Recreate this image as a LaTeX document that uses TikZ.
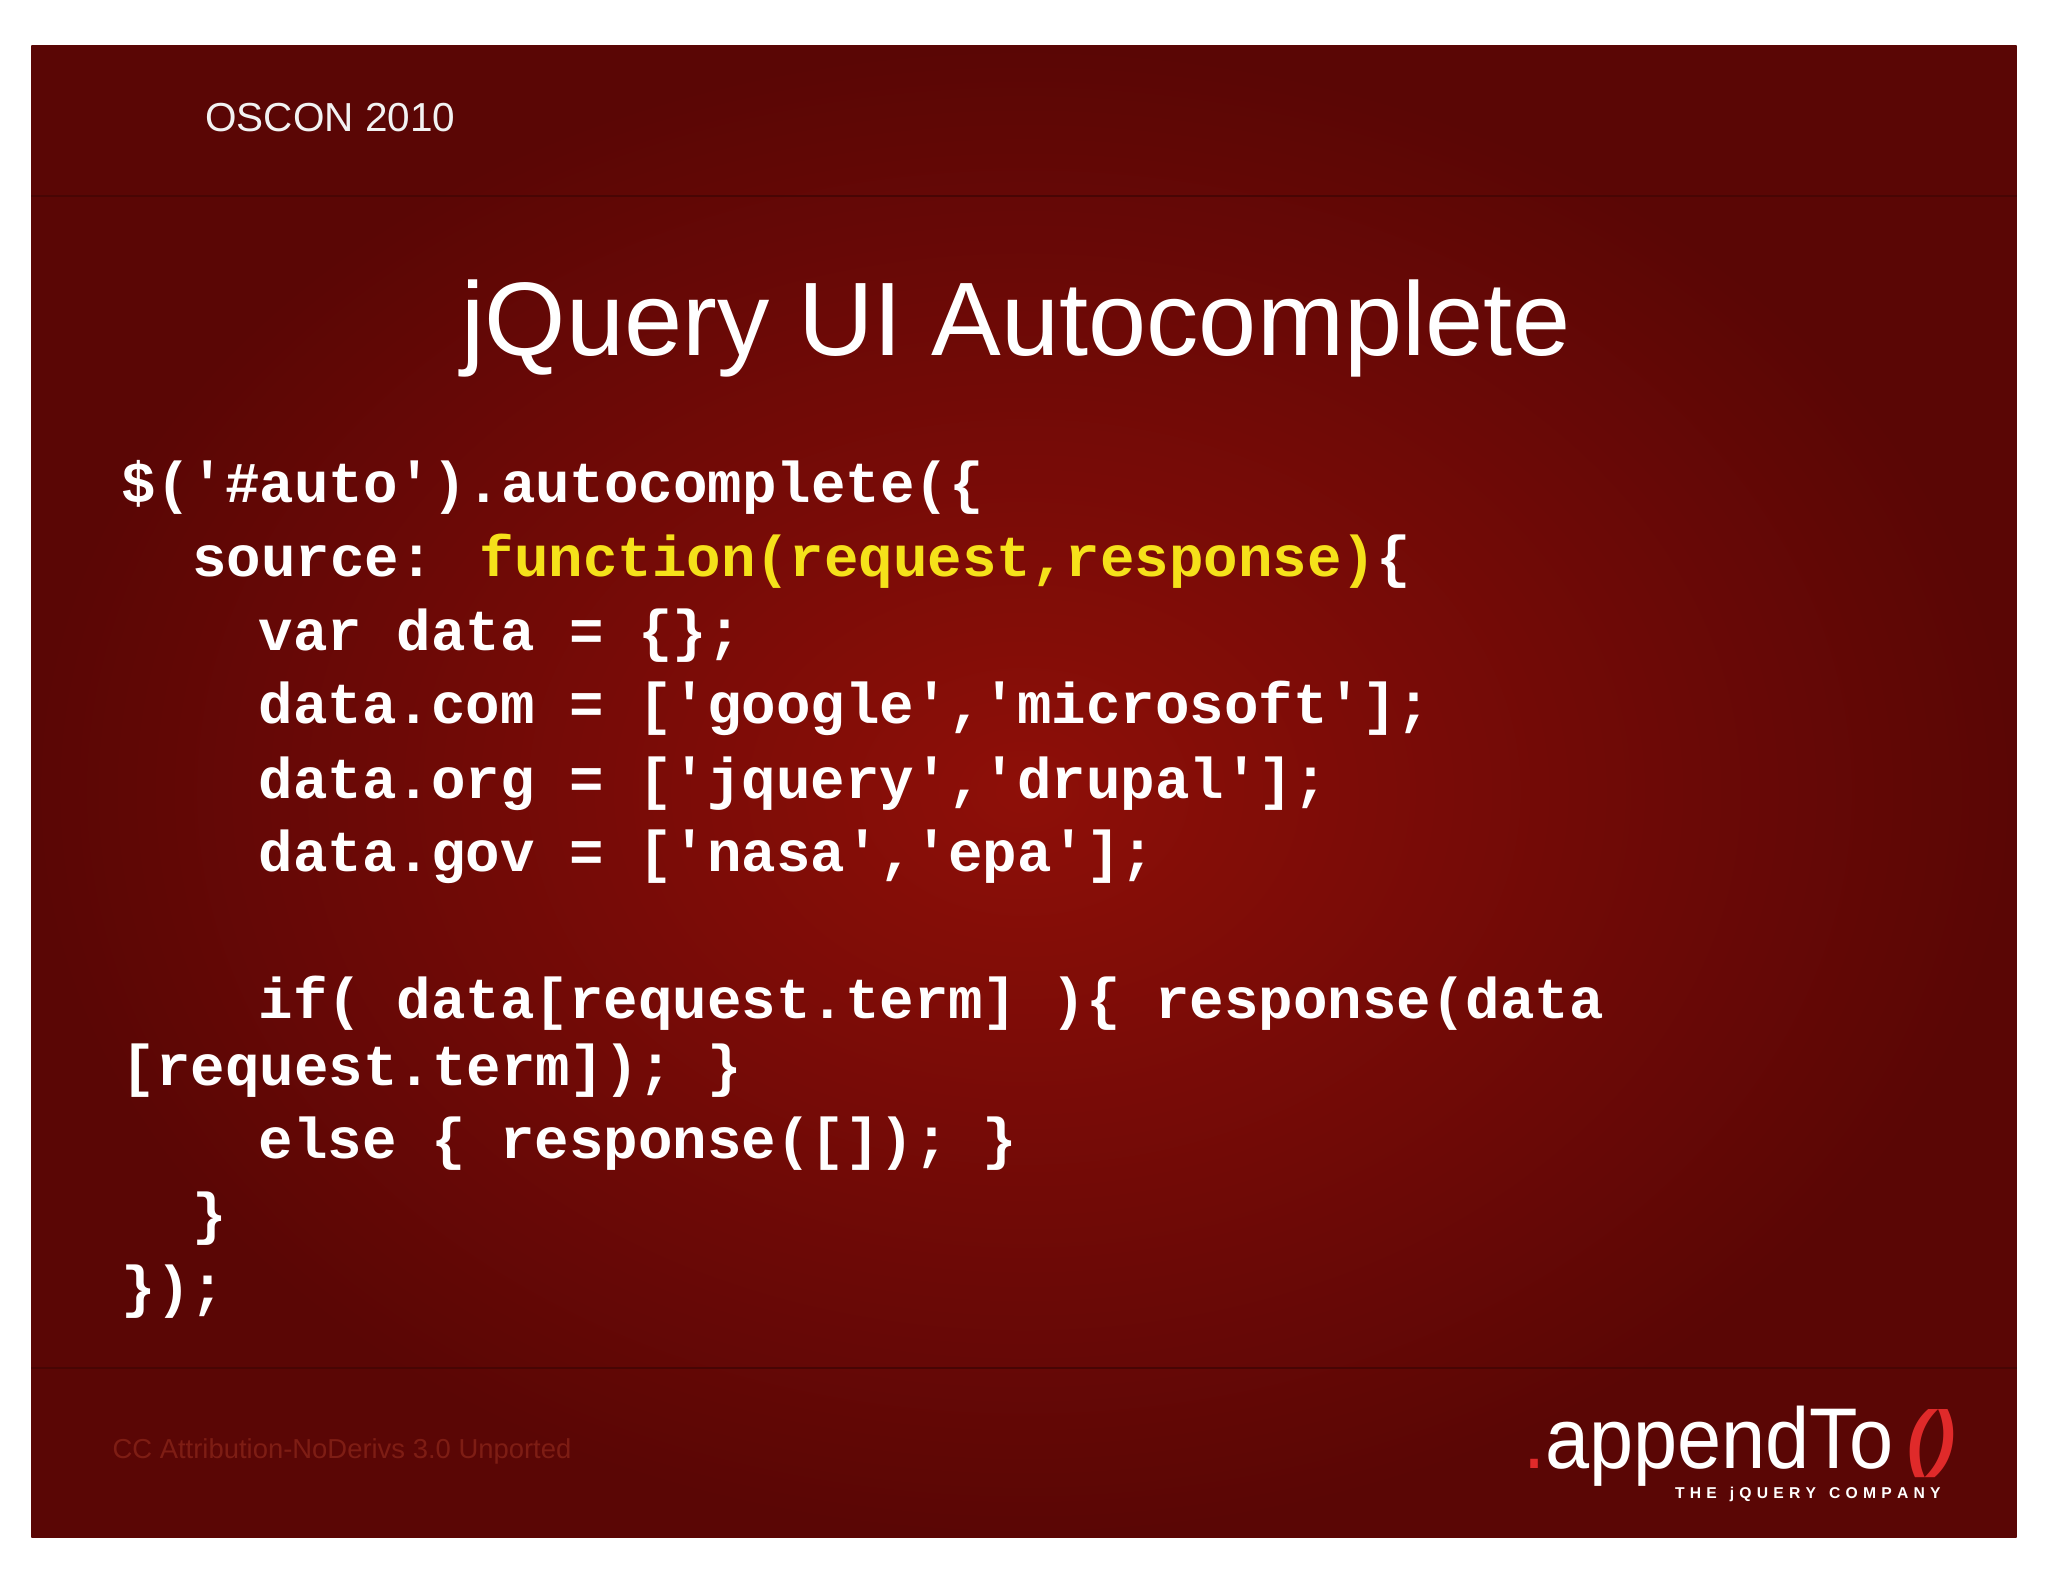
\documentclass[tikz,border=0pt]{standalone}
\usepackage{fontspec}
\setmainfont{Liberation Sans}
\newfontfamily\codefont{Liberation Mono}
\usetikzlibrary{shadings}
\definecolor{bgin}{HTML}{8E0F08}
\definecolor{bgout}{HTML}{5A0605}
\definecolor{kw}{HTML}{F5E11A}
\definecolor{cc}{HTML}{7E1D14}
\definecolor{logored}{HTML}{E02A2A}
\begin{document}
\begin{tikzpicture}[x=1pt,y=-1pt,
  code/.style={anchor=base west,inner sep=0,text=white,font=\codefont\bfseries\fontsize{44}{44}\selectfont}]
\useasboundingbox (0,0) rectangle (1568,1211);
\fill[white] (0,0) rectangle (1568,1211);
\shade[inner color=bgin,outer color=bgout] (24,35) rectangle (1544,1177);
\draw[bgout!80!black,line width=1.5] (24,150) -- (1544,150);
\draw[bgout!80!black,line width=1.5] (24,1047) -- (1544,1047);
\node[anchor=base west,inner sep=0,text=white!90!gray,font=\fontsize{31}{31}\selectfont] (osc) at (157,101) {OSCON 2010};
\node[anchor=base,inner sep=0,text=white,font=\fontsize{80}{80}\selectfont] (title) at (778,272) {jQuery UI Autocomplete};
\node[code] (l1) at (93,385) {\$('\#auto').autocomplete(\{};
\node[code] (l2) at (147,441) {source: \textcolor{kw}{function(request,response)}\{};
\node[code] (l3) at (198,498) {var data = \{\};};
\node[code] (l4) at (198,554) {data.com = ['google','microsoft'];};
\node[code] (l5) at (198,611) {data.org = ['jquery','drupal'];};
\node[code] (l6) at (198,667) {data.gov = ['nasa','epa'];};
\node[code] (l7) at (198,780) {if( data[request.term] )\{ response(data};
\node[code] (l8) at (93,831) {[request.term]); \}};
\node[code] (l9) at (198,887) {else \{ response([]); \}};
\node[code] (l10) at (147,944) {\}};
\node[code] (l11) at (93,1000) {\});};
\node[anchor=base west,inner sep=0,text=cc,font=\fontsize{21}{21}\selectfont] (cc) at (86,1117) {CC Attribution-NoDerivs 3.0 Unported};
\node[anchor=base west,inner sep=0,text=white,xscale=0.92,font=\fontsize{66}{66}\selectfont] (logo) at (1166,1124) {\textcolor{logored}{.}appendTo};
\node[anchor=base west,inner sep=0,text=logored,font=\itshape\bfseries\fontsize{56}{56}\selectfont] (par) at (1460,1120) {()};
\node[anchor=base east,inner sep=0,text=white,font=\bfseries\fontsize{12}{12}\selectfont] (sub) at (1486,1147) {T\,\,H\,\,E\ \ \ j\,\,Q\,\,U\,\,E\,\,R\,\,Y\ \ \ C\,\,O\,\,M\,\,P\,\,A\,\,N\,\,Y};
\end{tikzpicture}
\end{document}
